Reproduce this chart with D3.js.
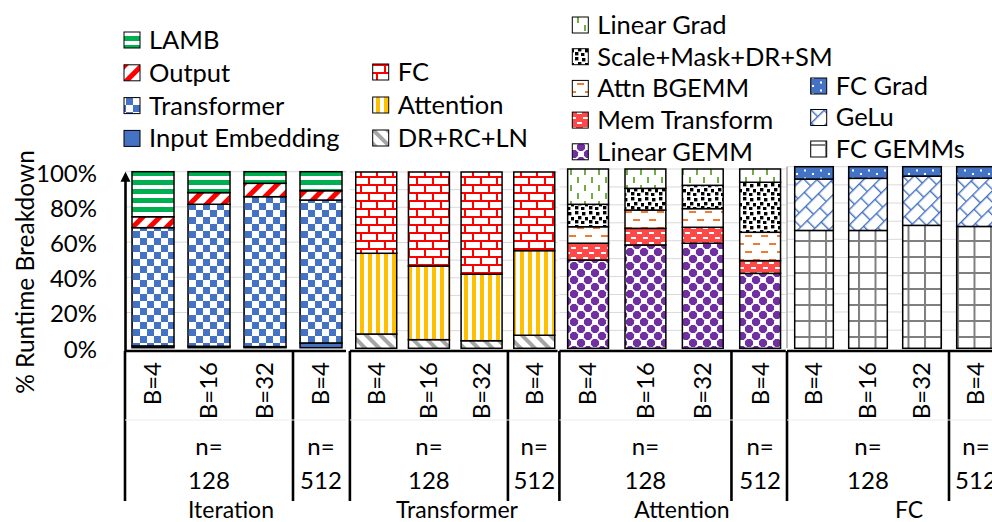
<!DOCTYPE html>
<html><head><meta charset="utf-8">
<script src="https://cdn.jsdelivr.net/npm/d3@7"></script>
<style>body{margin:0;background:#fff;} svg{display:block;} text{font-family:Lato, sans-serif; fill:#000;}</style>
</head><body><svg id="c" width="992" height="522"></svg>
<script>
// ---------------- DATA ----------------
const batchLabels = ["B=4", "B=16", "B=32", "B=4"];
const seqLabels = ["128", "512"];
const seqCounts = [3, 1];
const yTicks = [0, 20, 40, 60, 80, 100];
const yTitle = "% Runtime Breakdown";
const panelTitles = ["Iteration", "Transformer", "Attention", "FC"];

// Iteration (bottom -> top)
const iterInputEmbedding = [1.0, 0.8, 0.6, 2.7];
const iterTransformer   = [67.2, 80.7, 85.2, 81.2];
const iterOutput        = [6.2, 6.6, 7.6, 5.3];
const iterLAMB          = [25.6, 11.9, 6.6, 10.8];
// Transformer
const trDR        = [8.1, 4.9, 4.3, 7.4];
const trAttention = [45.8, 41.8, 37.7, 48.0];
const trFC        = [46.1, 53.3, 58.0, 44.6];
// Attention
const attLinearGEMM   = [49.2, 57.6, 58.6, 41.8];
const attMemTransform = [9.4, 9.3, 8.9, 7.1];
const attBGEMM        = [9.2, 10.2, 10.4, 15.8];
const attScaleMask    = [12.5, 12.1, 13.0, 27.9];
const attLinearGrad   = [19.7, 10.8, 9.1, 7.4];
// FC
const fcGEMMs = [64.9, 64.9, 67.7, 67.1];
const fcGeLu  = [28.3, 28.7, 27.1, 26.6];
const fcGrad  = [6.8, 6.4, 5.2, 6.3];

const panelSeries = [
  [["Input Embedding", iterInputEmbedding, "p-inemb"], ["Transformer", iterTransformer, "p-trans"], ["Output", iterOutput, "p-output"], ["LAMB", iterLAMB, "p-lamb"]],
  [["DR+RC+LN", trDR, "p-dr"], ["Attention", trAttention, "p-att"], ["FC", trFC, "p-fc"]],
  [["Linear GEMM", attLinearGEMM, "p-lgemm"], ["Mem Transform", attMemTransform, "p-mem"], ["Attn BGEMM", attBGEMM, "p-bgemm"], ["Scale+Mask+DR+SM", attScaleMask, "p-scale"], ["Linear Grad", attLinearGrad, "p-lgrad"]],
  [["FC GEMMs", fcGEMMs, "p-fcgemm"], ["GeLu", fcGeLu, "p-gelu"], ["FC Grad", fcGrad, "p-fcgrad"]]
];

// ---------------- LAYOUT ----------------
const layout = [
  {x0:125,   x1:349,   pad:0.25,  yb:347.7, yt:171.7, tx:231, lx:124,   ly:40, ls:32.8, grid:20},
  {x0:349.9, x1:560.6, pad:0.222, yb:348.3, yt:172,   tx:457, lx:372.7, ly:72, ls:33,   grid:10},
  {x0:559.4, x1:788.8, pad:0.288, yb:348.3, yt:169,   tx:682, lx:572.3, ly:25, ls:31.7, grid:10},
  {x0:787,   x1:1003,  pad:0.285, yb:348.3, yt:166.7, tx:909, lx:810.7, ly:86, ls:31.5, grid:10}
];
const FS = 24, LFS = 25.5;
const axY = 351, tableBottom = 501;

const svg = d3.select("#c");
const defs = svg.append("defs");
function pat(id, w, h, tr, bg, draw) {
  const p = defs.append("pattern").attr("id", id).attr("patternUnits", "userSpaceOnUse")
    .attr("width", w).attr("height", h);
  if (tr) p.attr("patternTransform", tr);
  p.append("rect").attr("width", w).attr("height", h).attr("fill", bg);
  draw(p);
}
function r(p, x, y, w, h, c) { p.append("rect").attr("x", x).attr("y", y).attr("width", w).attr("height", h).attr("fill", c); }

const BLUE = "#4472c4";
pat("p-lamb", 10, 9, null, "#fff", p => r(p, 0, 0, 10, 5, "#00b050"));
pat("p-output", 12, 12, "rotate(45)", "#fff", p => r(p, 0, 0, 5, 12, "#ff0000"));
pat("p-trans", 14, 14, null, "#fff", p => { r(p, 0, 0, 7, 7, BLUE); r(p, 7, 7, 7, 7, BLUE); });
pat("p-inemb", 4, 4, null, BLUE, p => {});
pat("p-fc", 16, 16, null, "#fff", p => { r(p,0,0,16,2,"#f00"); r(p,0,8,16,2,"#f00"); r(p,0,0,2,8,"#f00"); r(p,8,8,2,8,"#f00"); });
pat("p-att", 8, 8, null, "#fff", p => r(p, 0, 0, 4, 8, "#ffc000"));
pat("p-dr", 10, 10, "rotate(-45)", "#fff", p => r(p, 0, 0, 4, 10, "#a6a6a6"));
pat("p-lgrad", 14, 16, null, "#fff", p => { r(p,3,1,2,6,"#70ad47"); r(p,10,9,2,6,"#70ad47"); });
pat("p-scale", 14, 14, null, "#fff", p => {
  [[1,1],[8,2],[4,6],[11,7],[1,10],[7,11]].forEach(d => r(p, d[0], d[1], 3.4, 3.4, "#000"));
});
pat("p-bgemm", 16, 16, null, "#fff", p => { r(p,1,3,7,2,"#ed7d31"); r(p,9,11,7,2,"#ed7d31"); });
pat("p-mem", 12, 10, null, "#ff4848", p => { r(p,1,2,5,2,"#fff"); r(p,7,7,5,2,"#fff"); });
pat("p-lgemm", 14, 14, null, "#fff", p => {
  const k = 4.1, c = 1.6;
  [[0,0],[14,0],[0,14],[14,14],[7,7]].forEach(d => p.append("path")
    .attr("d", `M${d[0]-c},${d[1]-k}L${d[0]+c},${d[1]-k}L${d[0]+k},${d[1]-c}L${d[0]+k},${d[1]+c}L${d[0]+c},${d[1]+k}L${d[0]-c},${d[1]+k}L${d[0]-k},${d[1]+c}L${d[0]-k},${d[1]-c}Z`)
    .attr("transform", `rotate(45 ${d[0]} ${d[1]})`).attr("fill", "#7030a0"));
});
pat("p-fcgrad", 16, 8, null, BLUE, p => { r(p,4,1.5,2,2,"#fff"); r(p,12,5,2,2,"#fff"); });
pat("p-gelu", 18, 22, "rotate(-45)", "#fff", p => { r(p,0,0,18,1.4,BLUE); r(p,0,11,18,1.4,BLUE); r(p,0,0,1.4,11,BLUE); r(p,9,11,1.4,11,BLUE); });
pat("p-fcgemm", 16.5, 16, null, "#fff", p => { r(p,0,0,16.5,2,"#7f7f7f"); r(p,0,0,2,16,"#7f7f7f"); });

// ---------------- PANELS ----------------
let yIter;
panelSeries.forEach((series, pi) => {
  const L = layout[pi];
  const idx = d3.range(batchLabels.length);
  const x = d3.scaleBand().domain(idx).range([L.x0, L.x1]).paddingInner(L.pad).paddingOuter(L.pad / 2);
  const y = d3.scaleLinear().domain([0, 100]).range([L.yb, L.yt]);
  if (pi === 0) yIter = y;
  const g = svg.append("g");
  const right = Math.min(L.x1 - 3, 992);

  // gridlines
  g.selectAll("line.grid").data(d3.range(L.grid, 101, L.grid)).join("line")
    .attr("x1", L.x0).attr("x2", right).attr("y1", d => y(d)).attr("y2", d => y(d))
    .attr("stroke", "#d9d9d9").attr("stroke-width", 1);
  if (pi === 3) {
    g.append("line").attr("x1", L.x0).attr("x2", L.x0).attr("y1", y(100)).attr("y2", y(0)).attr("stroke", "#7f7f7f");
  }

  // stacked bars
  const rows = idx.map(i => { const o = {i}; series.forEach(s => o[s[0]] = s[1][i]); return o; });
  const stack = d3.stack().keys(series.map(s => s[0]))(rows);
  stack.forEach((layer, li) => {
    g.selectAll(null).data(layer).join("rect")
      .attr("x", d => x(d.data.i)).attr("width", x.bandwidth())
      .attr("y", d => y(d[1])).attr("height", d => y(d[0]) - y(d[1]))
      .attr("fill", `url(#${series[li][2]})`).attr("stroke", "#000").attr("stroke-width", 1.5);
  });

  // category table
  const divider = x(3) - x.step() * L.pad / 2;
  g.append("line").attr("x1", L.x0).attr("x2", right).attr("y1", axY).attr("y2", axY).attr("stroke", "#000").attr("stroke-width", 2.6);
  [L.x0, divider].forEach(vx => g.append("line").attr("x1", vx).attr("x2", vx).attr("y1", axY).attr("y2", tableBottom)
    .attr("stroke", "#000").attr("stroke-width", 2.6));
  g.append("line").attr("x1", L.x0).attr("x2", right).attr("y1", 420).attr("y2", 420).attr("stroke", "#ececec").attr("stroke-width", 1);

  g.selectAll("text.b").data(idx).join("text")
    .attr("transform", i => `translate(${x(i) + x.bandwidth() / 2},362) rotate(-90)`)
    .attr("text-anchor", "end").attr("dy", "0.35em").attr("font-size", FS).text(i => batchLabels[i]);

  let start = 0;
  seqLabels.forEach((lab, si) => {
    const members = d3.range(start, start + seqCounts[si]);
    start += seqCounts[si];
    const cx = d3.mean(members, i => x(i) + x.bandwidth() / 2);
    g.append("text").attr("x", cx).attr("y", 455).attr("text-anchor", "middle").attr("font-size", FS).text("n=");
    g.append("text").attr("x", cx).attr("y", 489).attr("text-anchor", "middle").attr("font-size", FS).text(lab);
  });
  g.append("text").attr("x", L.tx).attr("y", 517.5).attr("text-anchor", "middle").attr("font-size", 23).text(panelTitles[pi]);

  // legend (top of stack first)
  const leg = series.slice().reverse();
  leg.forEach((s, k) => {
    const cy = L.ly + k * L.ls;
    svg.append("rect").attr("x", L.lx).attr("y", cy - 8).attr("width", 16).attr("height", 16)
      .attr("fill", `url(#${s[2]})`).attr("stroke", "#000").attr("stroke-width", 1);
    svg.append("text").attr("x", L.lx + 25).attr("y", cy).attr("dy", "0.35em").attr("font-size", LFS).text(s[0]);
  });
});

// y axis
const ax = 125.5;
svg.append("line").attr("x1", ax).attr("x2", ax).attr("y1", axY).attr("y2", yIter(100) + 6).attr("stroke", "#000").attr("stroke-width", 2.6);
svg.append("path").attr("d", `M${ax},${yIter(100)}L${ax + 5},${yIter(100) + 10}L${ax - 5},${yIter(100) + 10}Z`).attr("fill", "#000");
svg.selectAll("text.yt").data(yTicks).join("text")
  .attr("x", 97).attr("y", d => yIter(d) + 1.5).attr("dy", "0.35em").attr("text-anchor", "end").attr("font-size", FS)
  .text(d => d + "%");
svg.append("text").attr("transform", "translate(34,272) rotate(-90)").attr("text-anchor", "middle")
  .attr("font-size", 24.5).text(yTitle);
</script></body></html>
